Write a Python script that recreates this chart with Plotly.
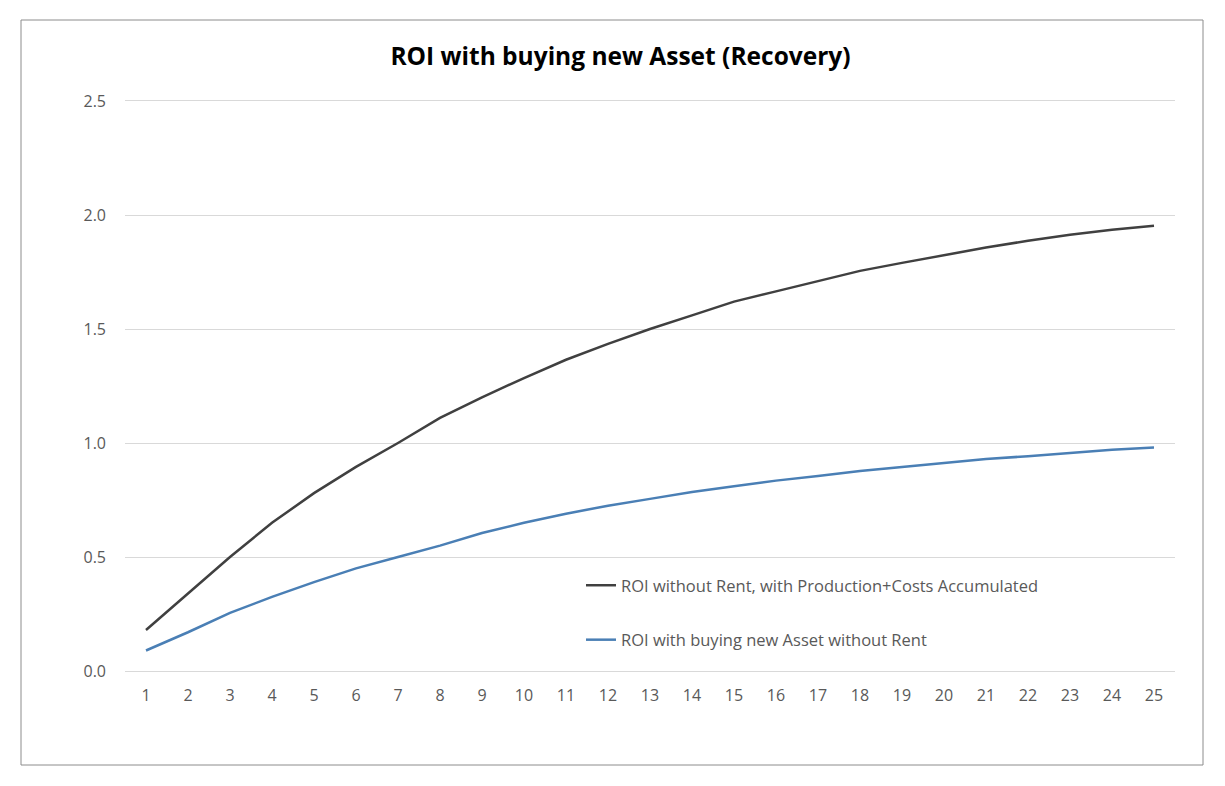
import plotly.graph_objects as go

# years 1..25
years = list(range(1, 26))

roi_accumulated = [0.18, 0.34, 0.50, 0.65, 0.78, 0.895, 1.00, 1.11, 1.20, 1.285,
                   1.365, 1.435, 1.50, 1.56, 1.62, 1.665, 1.71, 1.755, 1.79, 1.825,
                   1.857, 1.887, 1.913, 1.935, 1.953]
roi_new_asset = [0.09, 0.17, 0.255, 0.325, 0.39, 0.45, 0.50, 0.55, 0.605, 0.65,
                 0.69, 0.725, 0.755, 0.785, 0.81, 0.835, 0.855, 0.877, 0.895, 0.912,
                 0.93, 0.942, 0.956, 0.97, 0.98]

series_names = ["ROI without Rent, with Production+Costs Accumulated",
                "ROI with buying new Asset without Rent"]

title_text = "ROI with buying new Asset (Recovery)"

FONT = "Open Sans"
GRAY = "#595959"
GRID = "#d9d9d9"

fig = go.Figure()
fig.add_trace(go.Scatter(x=years, y=roi_accumulated, mode="lines", name=series_names[0],
                         legendgroup="a", line=dict(color="#404040", width=2.5)))
fig.add_trace(go.Scatter(x=years, y=roi_new_asset, mode="lines", name=series_names[1],
                         legendgroup="b", line=dict(color="#4a7fb5", width=2.5)))

# page body has an 8px margin, so work in figure coords = screen - 8
OFF = 8
L, R, T, B = 125 - OFF, 1175 - OFF, 101 - OFF, 671 - OFF
pw, ph = R - L, B - T

# outer chart border (Excel chart area)
fig.add_shape(type="rect", xref="paper", yref="paper",
              x0=(21 - OFF - L) / pw, x1=(1203 - OFF - L) / pw,
              y0=(B - (765 - OFF)) / ph, y1=(B - (20 - OFF)) / ph,
              line=dict(color="#8c8c8c", width=1), layer="below")

fig.update_layout(
    width=1225, height=786,
    margin=dict(l=L, r=1225 - R, t=T, b=786 - B),
    paper_bgcolor="white", plot_bgcolor="white",
    font=dict(family=FONT, color=GRAY, size=16),
    title=dict(text="<b>" + title_text + "</b>", x=0.5, xanchor="center",
               y=1 - (56 - OFF) / 786, yanchor="middle",
               font=dict(family=FONT, size=24.5, color="black")),
    showlegend=True,
    legend=dict(x=(581 - OFF - L) / pw, xanchor="left", y=(B - (568 - OFF)) / ph,
                yanchor="top", traceorder="grouped", tracegroupgap=30,
                bgcolor="rgba(0,0,0,0)",
                font=dict(family=FONT, size=16.5, color=GRAY)),
    hovermode=False,
)
# x axis line + mirror give the 0.0 and 2.5 rules across the full plot width
fig.update_xaxes(range=[0.5, 25.5], tickmode="array", tickvals=years,
                 ticktext=[str(y) for y in years], showgrid=False, zeroline=False,
                 showline=True, mirror=True, linecolor=GRID, linewidth=1.3,
                 ticks="", ticklabelstandoff=10,
                 tickfont=dict(size=16, color=GRAY))
fig.update_yaxes(range=[0, 2.5], tickmode="array",
                 tickvals=[0, 0.5, 1.0, 1.5, 2.0, 2.5], tickformat=".1f",
                 showgrid=True, gridcolor=GRID, gridwidth=1.3, zeroline=False,
                 showline=False, ticks="", ticklabelstandoff=18,
                 tickfont=dict(size=16, color=GRAY))

fig.write_html("out.html")
